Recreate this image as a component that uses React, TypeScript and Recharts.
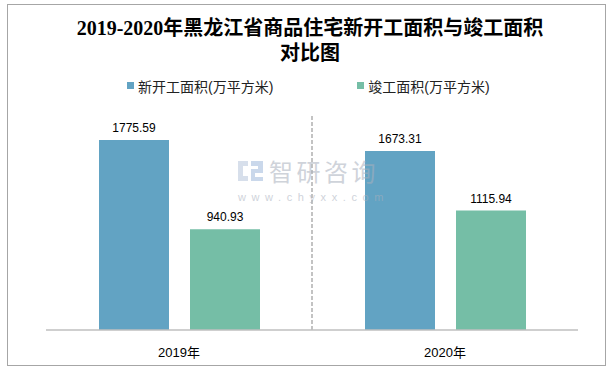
import { Bar, BarChart, LabelList, Legend, ReferenceLine, XAxis, YAxis } from "recharts";

const years = ["2019年", "2020年"];
const newStarts = [1775.59, 1673.31];
const completions = [940.93, 1115.94];
const seriesNames = ["新开工面积(万平方米)", "竣工面积(万平方米)"];
const colors = ["#62A3C3", "#75BEA6"];

const chartData = years.map((year, i) => ({
  year,
  idx: i + 0.5,
  newStarts: newStarts[i],
  completions: completions[i],
}));

const sans = '"Liberation Sans", Arial, "Noto Sans CJK SC", sans-serif';

function LegendContent() {
  return (
    <div style={{ display: "flex", paddingLeft: 127, fontFamily: sans, fontSize: 14, color: "#222", height: 21 }}>
      {seriesNames.map((name, i) => (
        <div key={name} style={{ display: "flex", alignItems: "center", marginRight: 84 }}>
          <span style={{ width: 7, height: 7, background: colors[i], marginRight: 4 }} />
          <span>{name}</span>
        </div>
      ))}
    </div>
  );
}

export default function App() {
  return (
    <div style={{ position: "absolute", left: 0, top: 0, width: 615, height: 371, background: "#fff" }}>
      <div
        style={{
          position: "absolute",
          left: 7,
          top: 4,
          width: 599,
          height: 362,
          border: "1px solid #a6a6a6",
          boxSizing: "border-box",
        }}
      />
      <div
        style={{
          position: "absolute",
          left: 0,
          top: 16,
          width: 620,
          textAlign: "center",
          fontFamily: '"Liberation Serif", "Noto Sans CJK SC", serif',
          fontWeight: "bold",
          fontSize: 20,
          lineHeight: "25px",
          color: "#000",
        }}
      >
        2019-2020年黑龙江省商品住宅新开工面积与竣工面积
        <br />
        对比图
      </div>
      <div style={{ position: "absolute", left: 0, top: 0 }}>
        <BarChart
          width={615}
          height={371}
          data={chartData}
          margin={{ top: 95, right: 37, bottom: 11, left: 46 }}
          barGap={21}
          barSize={70}
        >
          <XAxis
            dataKey="year"
            height={30}
            axisLine={{ stroke: "#bfbfbf", strokeWidth: 1.5 }}
            tickLine={false}
            tickMargin={12}
            tick={{ fill: "#000", fontSize: 13, fontFamily: sans }}
          />
          <XAxis xAxisId="sep" type="number" dataKey="idx" domain={[0, 2]} height={0} hide />
          <YAxis hide domain={[0, 2000]} />
          <ReferenceLine xAxisId="sep" x={1} stroke="#b0b0b0" strokeWidth={1.5} strokeDasharray="4 2" />
          <Legend
            verticalAlign="top"
            content={<LegendContent />}
            wrapperStyle={{ position: "absolute", top: 75, left: 0, width: 615 }}
          />
          <Bar dataKey="newStarts" name={seriesNames[0]} fill={colors[0]} isAnimationActive={false}>
            <LabelList dataKey="newStarts" position="top" offset={8} fill="#000" fontSize={12} fontFamily={sans} />
          </Bar>
          <Bar dataKey="completions" name={seriesNames[1]} fill={colors[1]} isAnimationActive={false}>
            <LabelList dataKey="completions" position="top" offset={8} fill="#000" fontSize={12} fontFamily={sans} />
          </Bar>
        </BarChart>
      </div>
      <div
        style={{
          position: "absolute",
          left: 238,
          top: 158,
          width: 150,
          opacity: 0.55,
          pointerEvents: "none",
          fontFamily: '"Noto Sans CJK SC", sans-serif',
          color: "#a9b0bd",
        }}
      >
        <div style={{ display: "flex", alignItems: "center", height: 26 }}>
          <svg width={26} height={24} style={{ marginRight: 5 }}>
            <rect x={0} y={2} width={10} height={5} fill="#b8c6dc" />
            <rect x={0} y={2} width={5} height={20} fill="#b8c6dc" />
            <rect x={0} y={17} width={10} height={5} fill="#b8c6dc" />
            <rect x={13} y={2} width={12} height={5} fill="#9fb9dc" />
            <rect x={20} y={2} width={5} height={11} fill="#9fb9dc" />
            <rect x={13} y={10} width={12} height={4} fill="#9fb9dc" />
            <rect x={13} y={10} width={4} height={12} fill="#9fb9dc" />
            <rect x={13} y={18} width={12} height={4} fill="#9fb9dc" />
          </svg>
          <span style={{ fontSize: 24, letterSpacing: 3.5, lineHeight: "26px" }}>智研咨询</span>
        </div>
        <div style={{ fontSize: 11, letterSpacing: 5.6, lineHeight: "13px", marginTop: 7, fontFamily: sans }}>
          www.chyxx.com
        </div>
      </div>
    </div>
  );
}
